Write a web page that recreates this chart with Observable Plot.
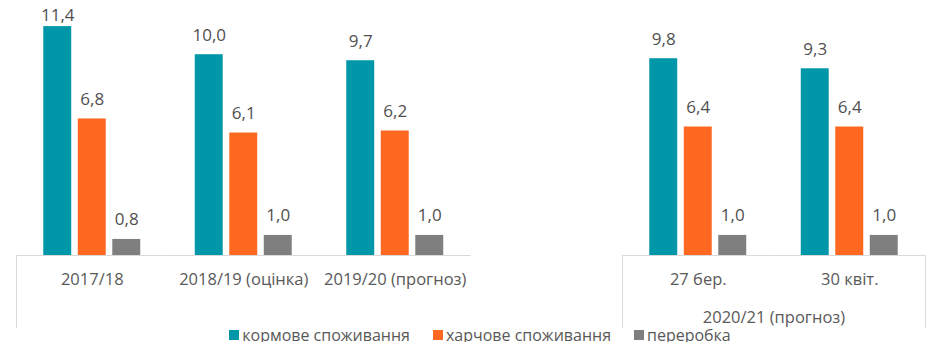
<!DOCTYPE html>
<html>
<head>
<meta charset="utf-8">
<script src="https://cdn.jsdelivr.net/npm/d3@7"></script>
<script src="https://cdn.jsdelivr.net/npm/@observablehq/plot@0.6"></script>
<style>
  body { margin: 0; background: #fff; font-family: "Open Sans", sans-serif; }
  #chart svg { display: block; }
  #legend { display: flex; justify-content: center; align-items: center; height: 14px; line-height: 14px; padding-left: 16px; font-size: 16px; color: #595959; }
  .item { display: flex; align-items: center; margin: 0 11.5px; }
  .sw { width: 10px; height: 10px; margin-right: 3px; }
</style>
</head>
<body>
<div id="chart"></div>
<div id="legend"></div>
<script>
const categories = ["2017/18", "2018/19 (оцінка)", "2019/20 (прогноз)", "", "27 бер.", "30 квіт."];
const series = ["кормове споживання", "харчове споживання", "переробка"];
const feedUse = [11.4, 10.0, 9.7, null, 9.8, 9.3];
const foodUse = [6.8, 6.1, 6.2, null, 6.4, 6.4];
const processing = [0.8, 1.0, 1.0, null, 1.0, 1.0];
const colors = ["#0098a8", "#ff6821", "#7f7f7f"];
const groupLabels = [{label: "2020/21 (прогноз)", first: "27 бер."}];
const separators = [{cat: "2017/18", side: "left"}, {cat: "27 бер.", side: "left"}, {cat: "30 квіт.", side: "right"}];

const valuesBySeries = [feedUse, foodUse, processing];
const rows = [];
categories.forEach((c, i) => {
  series.forEach((s, j) => {
    const v = valuesBySeries[j][i];
    if (v != null) rows.push({cat: c, series: s, value: v});
  });
});
const fmt = v => v.toFixed(1).replace(".", ",");

const plot = Plot.plot({
  width: 944,
  height: 328,
  marginTop: 0,
  marginBottom: 73,
  marginLeft: 16,
  marginRight: 19,
  fx: {domain: categories, padding: 0, round: false, label: null},
  x: {domain: series, axis: null, paddingInner: 0.19, paddingOuter: 0.79, round: false},
  y: {domain: [0, 12.7], axis: null},
  color: {domain: series, range: colors},
  style: {fontFamily: "'Open Sans', sans-serif", fontSize: "16px", background: "#fff"},
  marks: [
    Plot.ruleY([0], {stroke: "#d9d9d9", strokeWidth: 1}),
    Plot.barY(rows, {fx: "cat", x: "series", y: "value", fill: "series"}),
    Plot.text(rows, {
      fx: "cat", x: "series", y: "value", text: d => fmt(d.value), fill: "#505050", fontSize: 17,
      render(index, scales, values, dimensions, context, next) {
        const y = Float64Array.from(values.y, v => Math.max(v - 19.5, dimensions.marginTop + 15));
        return next(index, scales, {...values, y}, dimensions, context);
      }
    }),
    Plot.axisFx({anchor: "bottom", tickSize: 0, tickPadding: 18, fontSize: 16.5, fill: "#595959", label: null}),
    Plot.text(groupLabels, {fx: "first", text: "label", frameAnchor: "bottom-right", lineAnchor: "middle", textAnchor: "middle", dy: 62, fill: "#595959", fontSize: 16.5}),
    Plot.text(separators, {
      facet: "super",
      frameAnchor: "middle",
      text: "cat",
      render(index, scales, values, dimensions) {
        const fx = scales.fx;
        const bw = fx.bandwidth();
        const y1 = dimensions.height - dimensions.marginBottom;
        const g = d3.create("svg:g");
        for (const i of index) {
          const s = separators[i];
          const x = Math.round(fx(s.cat) + (s.side === "right" ? bw : 0)) + 0.5;
          g.append("line").attr("x1", x).attr("x2", x).attr("y1", y1).attr("y2", dimensions.height)
            .attr("stroke", "#d9d9d9").attr("stroke-width", 1);
        }
        return g.node();
      }
    })
  ]
});
document.getElementById("chart").append(plot);

const legend = document.getElementById("legend");
series.forEach((s, j) => {
  const item = document.createElement("div");
  item.className = "item";
  const sw = document.createElement("span");
  sw.className = "sw";
  sw.style.background = colors[j];
  const t = document.createElement("span");
  t.textContent = s;
  item.append(sw, t);
  legend.append(item);
});
</script>
</body>
</html>
